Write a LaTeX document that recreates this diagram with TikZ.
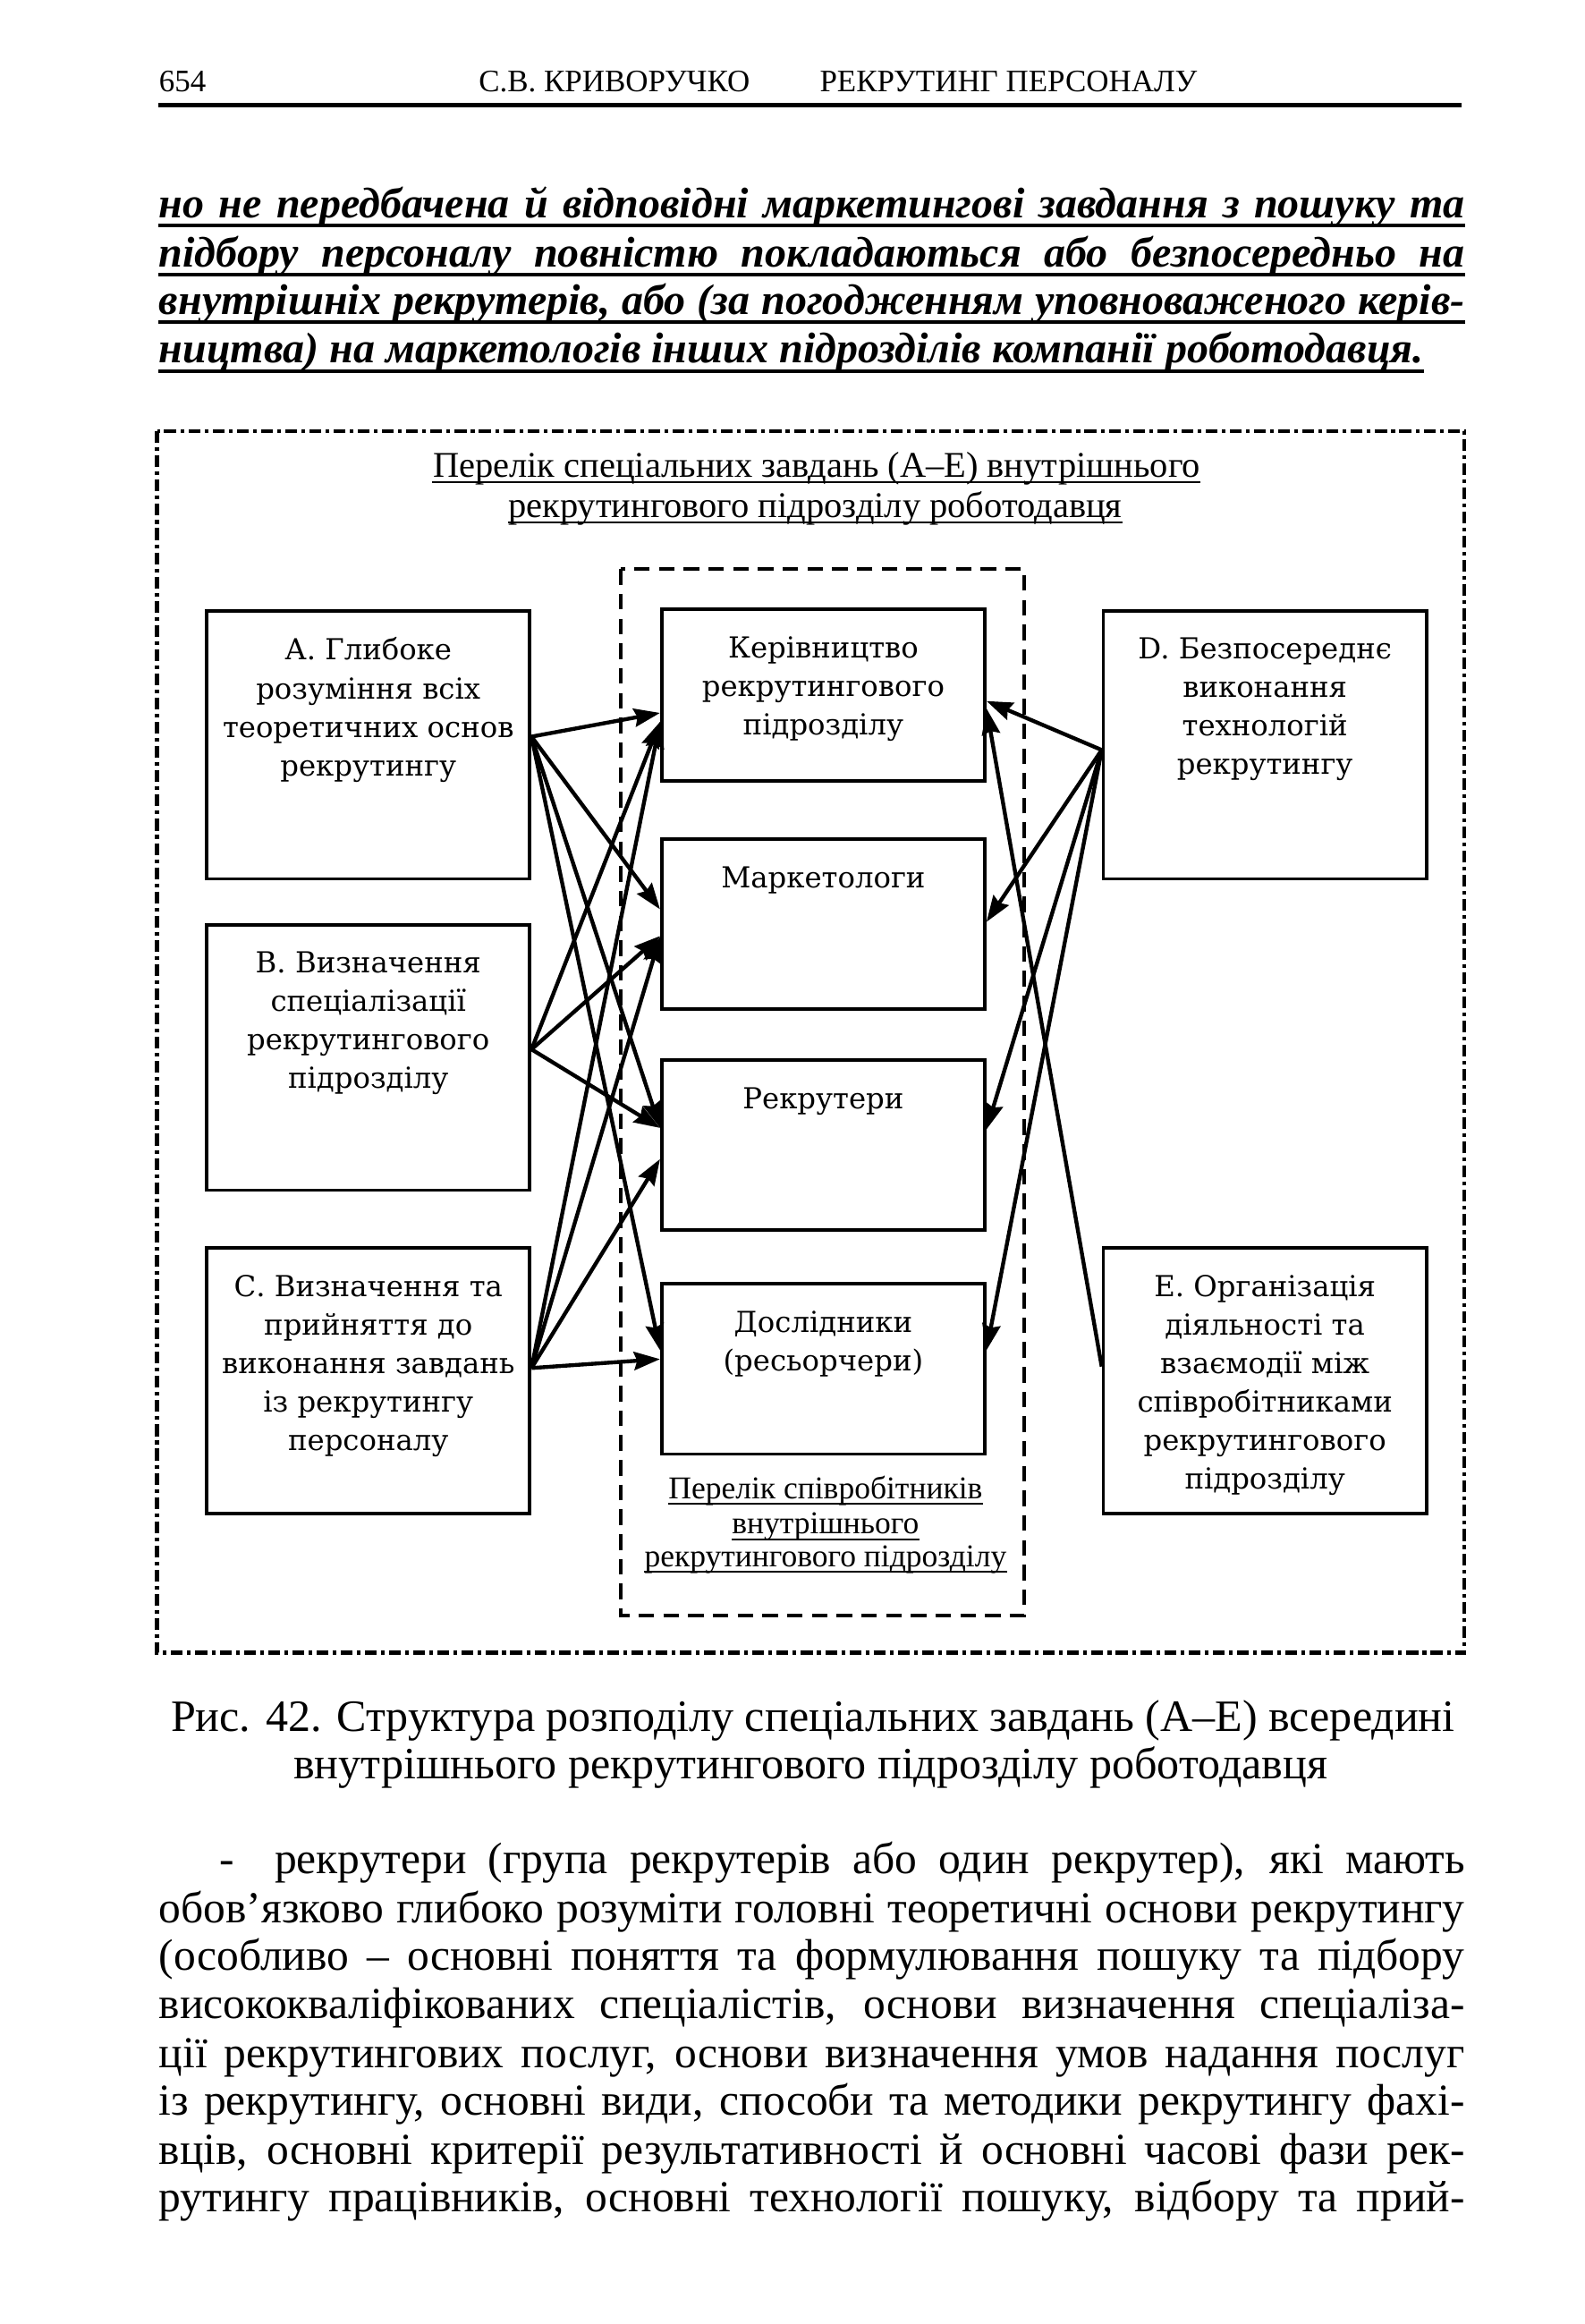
\documentclass[tikz,border=0pt]{standalone}
\usepackage{fontspec}
\setmainfont{Liberation Serif}
\newfontfamily\boxfont{DejaVu Serif}
\usetikzlibrary{arrows.meta}

\tikzset{
    taskbox/.style={draw, line width=1.3pt, minimum width=43.6mm, inner sep=0pt},
    tasktext/.style={anchor=north, align=center, inner sep=0pt, font=\boxfont\fontsize{11.1}{14.8}\selectfont},
    link/.style={-{Stealth[length=10pt,width=7pt,inset=1.2pt]}, line width=1.5pt},
    txtline/.style={anchor=base west, inner sep=0pt},
    midline/.style={anchor=base, inner sep=0pt},
    bodyfont/.style={font=\fontsize{17}{19}\selectfont},
    headfont/.style={font=\fontsize{12}{14}\selectfont},
    notefont/.style={font=\bfseries\itshape\fontsize{16.5}{19}\selectfont},
    titlefont/.style={font=\fontsize{13.9}{16}\selectfont},
    staffont/.style={font=\fontsize{12.2}{14}\selectfont},
    capfont/.style={font=\fontsize{17.2}{20}\selectfont},
    outerframe/.style={line width=1.6pt, dash pattern=on 4.5pt off 1.7pt on 1.4pt off 1.7pt},
    innerframe/.style={line width=1.3pt, dash pattern=on 6pt off 3.5pt},
    uline/.style={line width=0.6pt},
    thickuline/.style={line width=1.3pt}
}

\begin{document}
\begin{tikzpicture}[x=0.2mm, y=-0.2mm]
        \useasboundingbox (0,0) rectangle (1069,1568);
        % page head
            \node[txtline, headfont] (pg) at (107,62) {654};
            \node[midline, headfont] (au) at (414.5,62) {С.В. КРИВОРУЧКО};
            \node[midline, headfont] (hd) at (680.5,62) {РЕКРУТИНГ ПЕРСОНАЛУ};
            \draw[line width=1.7pt] (107,71) -- (986,71);
        % note above the figure
            \foreach \i/\y/\txt in {1/147/{но не передбачена й відповідні маркетингові завдання з пошуку та},
                                   2/180/{підбору персоналу повністю покладаються або безпосередньо на},
                                   3/212/{внутрішніх рекрутерів, або (за погодженням уповноваженого керів-}}{
                \node[txtline, notefont] (p\i) at (107,\y) {\makebox[176.2mm][s]{\txt}};
                \draw[thickuline] ([yshift=-3pt]p\i.base west) -- ([yshift=-3pt]p\i.base east);
            }
            \node[txtline, notefont] (p4) at (107,245) {ництва) на маркетологів інших підрозділів компанії роботодавця.};
            \draw[thickuline] ([yshift=-3pt]p4.base west) -- ([yshift=-3pt]p4.base east);
        % frames
            \draw[outerframe] (106,291) rectangle (988,1115);
            \draw[innerframe] (419,384) rectangle (691,1090);
            \node[midline, titlefont] (t1) at (551,322) {Перелік спеціальних завдань (А–Е) внутрішнього};
            \node[midline, titlefont] (t2) at (550,349) {рекрутингового підрозділу роботодавця};
            \foreach \t in {t1,t2}{
                \draw[uline] ([yshift=-2pt]\t.base west) -- ([yshift=-2pt]\t.base east);
            }
        % tasks
            \foreach \n/\x/\y/\h in {A/248.5/502.5/36.2, B/248.5/713.5/35.8, C/248.5/931.5/35.8,
                                    D/853.5/502.5/36.2, E/853.5/931.5/35.8}{
                \node[taskbox, minimum height=\h mm] (\n) at (\x,\y) {};
            }
            \foreach \n/\txt in {A/{А. Глибоке\\розуміння всіх\\теоретичних основ\\рекрутингу},
                                B/{В. Визначення\\спеціалізації\\рекрутингового\\підрозділу},
                                C/{С. Визначення та\\прийняття до\\виконання завдань\\із рекрутингу\\персоналу},
                                D/{D. Безпосереднє\\виконання\\технологій\\рекрутингу},
                                E/{Е. Організація\\діяльності та\\взаємодії між\\співробітниками\\рекрутингового\\підрозділу}}{
                \node[tasktext] (\n-t) at ([yshift=-3.8mm]\n.north) {\txt};
            }
        % staff
            \foreach \n/\y/\h in {ker/469/23.2, mar/623.5/23, rek/772.5/23, dos/923.5/23}{
                \node[taskbox, minimum height=\h mm] (\n) at (555.5,\y) {};
            }
            \foreach \n/\txt in {ker/{Керівництво\\рекрутингового\\підрозділу}, mar/{Маркетологи},
                                rek/{Рекрутери}, dos/{Дослідники\\(ресьорчери)}}{
                \node[tasktext] (\n-t) at ([yshift=-3.9mm]\n.north) {\txt};
            }
            \node[midline, staffont] (s1) at (557,1011) {Перелік співробітників};
            \node[midline, staffont] (s2) at (557,1035) {внутрішнього};
            \node[midline, staffont] (s3) at (557,1057) {рекрутингового підрозділу};
            \foreach \s in {s1,s2,s3}{
                \draw[uline] ([yshift=-2pt]\s.base west) -- ([yshift=-2pt]\s.base east);
            }
        % links
            \foreach \a/\sa/\b/\sb in {A/1.1/ker/-2.4, A/1.1/mar/2, A/1.1/rek/2.3, A/1.1/dos/2.5,
                                      B/1.1/ker/-3.6, B/1.1/mar/-1.6, B/1.1/rek/2.3,
                                      C/1.7/ker/-3.6, C/1.7/mar/-1.7, C/1.7/rek/-1.9, C/1.7/dos/1.3}{
                \draw[link] ([yshift=\sa mm]\a.east) -- ([yshift=\sb mm]\b.west);
            }
            \foreach \a/\sa/\b/\sb in {D/-0.7/ker/-0.8, D/-0.7/mar/0.3, D/-0.7/rek/2.1, D/-0.7/dos/2.5,
                                      E/1.9/ker/-1.8}{
                \draw[link] ([yshift=\sa mm]\a.west) -- ([yshift=\sb mm]\b.east);
            }
        % caption
            \node[midline, capfont] (c1) at (548.5,1168) {Рис. 42. Структура розподілу спеціальних завдань (А–Е) всередині};
            \node[midline, capfont] (c2) at (547,1200) {внутрішнього рекрутингового підрозділу роботодавця};
        % text below
            \node[txtline, bodyfont] (b0) at (148,1264) {-};
            \node[txtline, bodyfont] (b1) at (185,1264) {\makebox[160.6mm][s]{рекрутери (група рекрутерів або один рекрутер), які мають}};
            \foreach \i/\y/\txt in {2/1297/{обов’язково глибоко розуміти головні теоретичні основи рекрутингу},
                                   3/1329/{(особливо – основні поняття та формулювання пошуку та підбору},
                                   4/1362/{висококваліфікованих спеціалістів, основи визначення спеціаліза-},
                                   5/1395/{ції рекрутингових послуг, основи визначення умов надання послуг},
                                   6/1427/{із рекрутингу, основні види, способи та методики рекрутингу фахі-},
                                   7/1460/{вців, основні критерії результативності й основні часові фази рек-},
                                   8/1492/{рутингу працівників, основні технології пошуку, відбору та прий-}}{
                \node[txtline, bodyfont] (b\i) at (107,\y) {\makebox[176.2mm][s]{\txt}};
            }
\end{tikzpicture}
\end{document}
